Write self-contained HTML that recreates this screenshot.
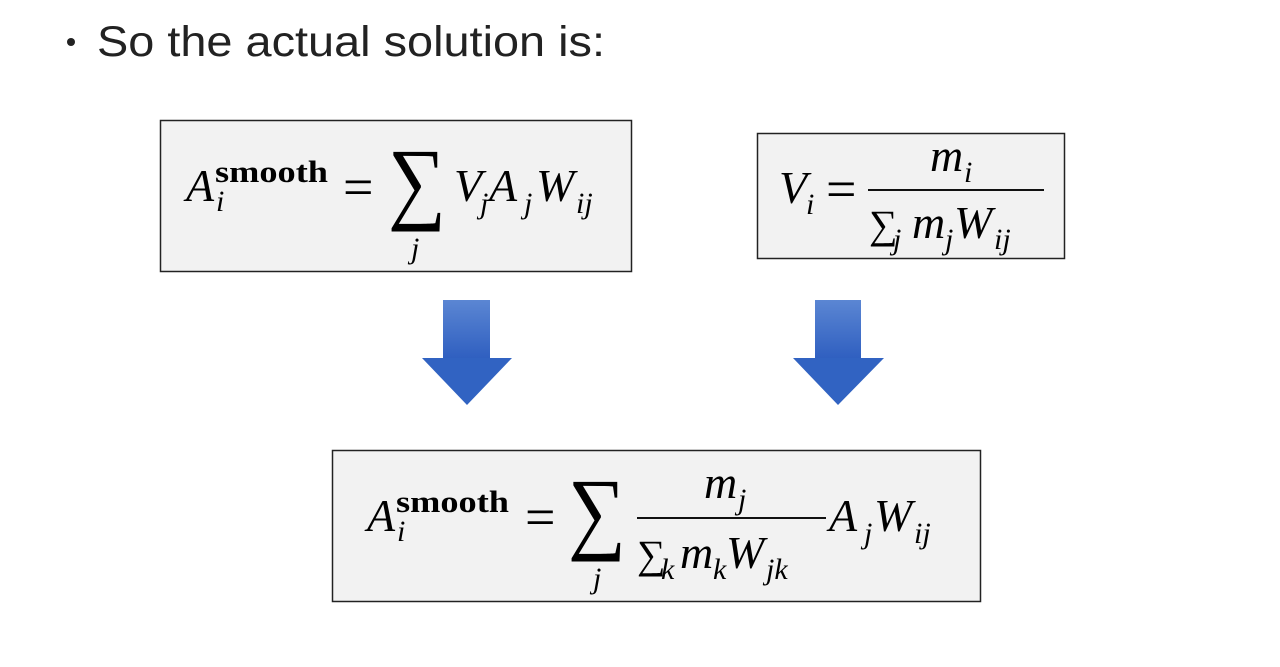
<!DOCTYPE html>
<html><head><meta charset="utf-8"><style>
html,body{margin:0;padding:0;background:#fff;}
svg{display:block}
.t{font-family:"Liberation Sans",sans-serif;}
.m{font-family:"Liberation Serif",serif;font-style:italic;}
.b{font-family:"Liberation Serif",serif;font-weight:bold;}
.r{font-family:"Liberation Serif",serif;}
</style></head><body>
<svg width="1280" height="667" viewBox="0 0 1280 667" xmlns="http://www.w3.org/2000/svg">
<defs><linearGradient id="g" x1="0" y1="0" x2="0" y2="1"><stop offset="0" stop-color="#5b86d3"/><stop offset="1" stop-color="#2f5fc0"/></linearGradient></defs>
<circle cx="71" cy="42" r="4" fill="#222"/>
<text x="97" y="56" class="t" font-size="43" fill="#222" textLength="508" lengthAdjust="spacingAndGlyphs">So the actual solution is:</text>

<rect x="160.5" y="120.5" width="471" height="151" fill="#f2f2f2" stroke="#222" stroke-width="1.5"/>
<text x="186" y="201" class="m" font-size="46">A</text>
<text x="215" y="182" class="b" font-size="31" textLength="113" lengthAdjust="spacingAndGlyphs">smooth</text>
<text x="216" y="211" class="m" font-size="30">i</text>
<text x="343" y="205" class="r" font-size="54">=</text>
<text x="388" y="212" class="r" font-size="92" textLength="58" lengthAdjust="spacingAndGlyphs">∑</text>
<text x="411" y="258" class="m" font-size="30">j</text>
<text x="454" y="201" class="m" font-size="46">V</text>
<text x="480" y="213" class="m" font-size="30">j</text>
<text x="489" y="201" class="m" font-size="46">A</text>
<text x="524" y="213" class="m" font-size="30">j</text>
<text x="536" y="201" class="m" font-size="46">W</text>
<text x="576" y="213" class="m" font-size="30">ij</text>

<rect x="757.5" y="133.5" width="307" height="125" fill="#f2f2f2" stroke="#222" stroke-width="1.5"/>
<text x="779" y="203" class="m" font-size="46">V</text>
<text x="806" y="214" class="m" font-size="30">i</text>
<text x="826" y="207" class="r" font-size="54">=</text>
<line x1="868" y1="190" x2="1044" y2="190" stroke="#111" stroke-width="2"/>
<text x="930" y="171" class="m" font-size="46">m</text>
<text x="964" y="182" class="m" font-size="30">i</text>
<text x="869" y="238" class="r" font-size="40">∑</text>
<text x="893" y="249" class="m" font-size="30">j</text>
<text x="912" y="238" class="m" font-size="46">m</text>
<text x="945" y="249" class="m" font-size="30">j</text>
<text x="954" y="238" class="m" font-size="46">W</text>
<text x="994" y="249" class="m" font-size="30">ij</text>

<rect x="443" y="300" width="47" height="59" fill="url(#g)"/>
<polygon points="422,358 512,358 467,405" fill="#3163c2"/>
<rect x="815" y="300" width="46" height="59" fill="url(#g)"/>
<polygon points="793,358 884,358 838,405" fill="#3163c2"/>

<rect x="332.5" y="450.5" width="648" height="151" fill="#f2f2f2" stroke="#222" stroke-width="1.5"/>
<text x="367" y="531" class="m" font-size="46">A</text>
<text x="396" y="512" class="b" font-size="31" textLength="113" lengthAdjust="spacingAndGlyphs">smooth</text>
<text x="397" y="541" class="m" font-size="30">i</text>
<text x="525" y="535" class="r" font-size="54">=</text>
<text x="568" y="542" class="r" font-size="92" textLength="58" lengthAdjust="spacingAndGlyphs">∑</text>
<text x="593" y="588" class="m" font-size="30">j</text>
<line x1="637" y1="518" x2="826" y2="518" stroke="#111" stroke-width="2"/>
<text x="704" y="498" class="m" font-size="46">m</text>
<text x="738" y="509" class="m" font-size="30">j</text>
<text x="637" y="568" class="r" font-size="40">∑</text>
<text x="661" y="579" class="m" font-size="30">k</text>
<text x="680" y="568" class="m" font-size="46">m</text>
<text x="713" y="579" class="m" font-size="30">k</text>
<text x="726" y="568" class="m" font-size="46">W</text>
<text x="766" y="579" class="m" font-size="30">jk</text>
<text x="829" y="531" class="m" font-size="46">A</text>
<text x="864" y="543" class="m" font-size="30">j</text>
<text x="874" y="531" class="m" font-size="46">W</text>
<text x="914" y="543" class="m" font-size="30">ij</text>
</svg>
</body></html>
